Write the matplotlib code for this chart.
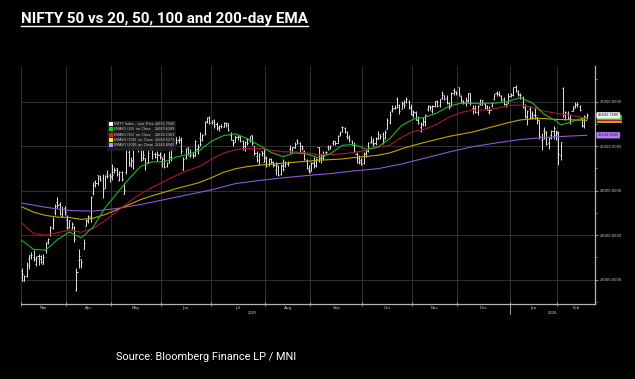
import matplotlib
matplotlib.use("Agg")
import matplotlib.pyplot as plt
import matplotlib.transforms as mtransforms
from matplotlib.lines import Line2D
from matplotlib.patches import Rectangle
import numpy as np

# %% data (daily NIFTY bars, Mar-2025 .. mid Feb-2026)
months = ['Mar', 'Apr', 'May', 'Jun', 'Jul', 'Aug', 'Sep', 'Oct', 'Nov', 'Dec', 'Jan', 'Feb']
month_days = [19, 19, 21, 21, 23, 19, 22, 21, 19, 22, 20, 13]
years = ['2025', '2026']

opens = [
    22194, 21974, 22073, 22476, 22508, 22521, 22345, 22537, 22541, 22353, 22662, 22874, 23036, 23169, 23515, 23752, 23701, 23433, 23600,
    23341, 23192, 23151, 23190, 21758, 22446, 22460, 22695, 23207, 23344, 23402, 23949, 24185, 24357, 24277, 24290, 24070, 24371, 24342,
    24311, 24419, 24500, 24233, 24431, 23935, 24420, 24864, 24614, 24694, 25064, 25006, 24996, 24744, 24733, 24639, 24919, 24956, 24832, 24825, 24812,
    24670, 24786, 24561, 24691, 24748, 25160, 25196, 25134, 25164, 24473, 24732, 24977, 24788, 24803, 24787, 24939, 25179, 25150, 25268, 25576, 25661,
    25551, 25588, 25505, 25428, 25450, 25428, 25514, 25511, 25256, 25149, 25089, 25197, 25231, 25108, 24999, 25166, 25139, 25243, 25010, 24782, 24609, 24891, 24642,
    24734, 24597, 24721, 24641, 24464, 24544, 24372, 24563, 24587, 24607, 24939, 24903, 24965, 25142, 25064, 25000, 24900, 24695, 24467,
    24433, 24654, 24554, 24980, 24819, 24802, 24864, 24991, 24945, 25075, 25118, 25073, 25276, 25441, 25410, 25239, 25209, 25108, 25034, 24818, 24728, 24691,
    24620, 24818, 24916, 25085, 25079, 25074, 25167, 25177, 25277, 25182, 25394, 25546, 25824, 25866, 26058, 25935, 25844, 25939, 25982, 25984, 25863,
    25696, 25744, 25593, 25433, 25503, 25541, 25834, 25906, 25795, 25892, 26022, 25933, 26079, 26156, 26094, 25963, 25900, 26262, 26231,
    26325, 26123, 25991, 25980, 26019, 26191, 25867, 25865, 25771, 25937, 25933, 25951, 25903, 25764, 25911, 26055, 26205, 26170, 26121, 26064, 25940, 25971,
    26173, 26155, 26333, 26190, 26144, 26107, 25840, 25650, 25845, 25648, 25696, 25653, 25580, 25141, 25344, 25344, 25063, 25258, 25350, 25248,
    25300, 24800, 26300, 25700, 25750, 25600, 25800, 25900, 25950, 25900, 25600, 25450, 25650,
]
highs = [
    22261, 22105, 22395, 22556, 22633, 22676, 22522, 22577, 22558, 22578, 22858, 22941, 23216, 23402, 23709, 23869, 23737, 23646, 23649,
    23450, 23350, 23306, 23214, 22255, 22698, 22468, 22924, 23368, 23452, 23872, 24189, 24242, 24359, 24348, 24365, 24355, 24457, 24396,
    24589, 24527, 24509, 24449, 24447, 24164, 24944, 24973, 24767, 25116, 25070, 25063, 25011, 24946, 24737, 24909, 25079, 25062, 24865, 24892, 24864,
    24754, 24845, 24644, 24899, 25029, 25160, 25199, 25222, 25196, 24754, 24967, 24983, 24947, 24863, 25137, 25057, 25317, 25266, 25565, 25654, 25669,
    25593, 25608, 25548, 25470, 25489, 25548, 25548, 25525, 25322, 25151, 25245, 25256, 25238, 25144, 25111, 25182, 25233, 25246, 25011, 24889, 24848, 24903, 24956,
    24784, 24736, 24734, 24672, 24634, 24586, 24600, 24702, 24664, 24674, 25022, 24991, 25089, 25154, 25084, 25022, 24919, 24702, 24572,
    24636, 24756, 24733, 24981, 24832, 24885, 24891, 25036, 25037, 25139, 25119, 25261, 25346, 25449, 25429, 25331, 25261, 25148, 25092, 24868, 24792, 24731,
    24868, 24904, 25095, 25221, 25192, 25199, 25331, 25267, 25310, 25365, 25625, 25781, 25926, 25934, 26104, 25944, 26005, 26042, 26097, 26032, 25953,
    25803, 25787, 25679, 25551, 25653, 25715, 25934, 25920, 25930, 26025, 26030, 26063, 26246, 26159, 26142, 26000, 26215, 26310, 26251,
    26326, 26156, 26042, 26098, 26202, 26194, 25933, 25923, 25922, 26057, 26048, 25980, 25929, 25903, 25994, 26180, 26233, 26236, 26144, 26106, 25976, 26188,
    26197, 26340, 26373, 26273, 26187, 26134, 25940, 25813, 25900, 25791, 25873, 25653, 25585, 25300, 25435, 25347, 25206, 25372, 25450, 25365,
    25340, 25100, 26341, 25800, 25790, 25720, 25900, 25990, 26000, 25930, 25640, 25700, 25740,
]
lows = [
    21965, 21965, 22068, 22245, 22464, 22429, 22315, 22329, 22378, 22353, 22599, 22807, 22973, 23132, 23451, 23601, 23451, 23412, 23451,
    23136, 23158, 23145, 22857, 21744, 22271, 22270, 22695, 23207, 23273, 23298, 23903, 24073, 24119, 24216, 23847, 24054, 24290, 24198,
    24238, 24400, 24331, 24221, 24221, 23935, 24378, 24547, 24535, 24495, 24953, 24875, 24669, 24686, 24462, 24614, 24911, 24705, 24737, 24677, 24717,
    24527, 24502, 24530, 24620, 24671, 25077, 25054, 25081, 24825, 24473, 24703, 24813, 24750, 24733, 24784, 24825, 24999, 25125, 25259, 25523, 25489,
    25501, 25409, 25372, 25331, 25407, 25424, 25424, 25340, 25129, 25002, 25089, 25143, 25101, 24919, 24882, 25035, 25085, 25018, 24806, 24646, 24599, 24771, 24635,
    24535, 24554, 24591, 24539, 24345, 24337, 24347, 24452, 24539, 24564, 24852, 24874, 24952, 25054, 24859, 24918, 24689, 24481, 24404,
    24432, 24515, 24533, 24650, 24621, 24693, 24814, 24915, 24940, 25038, 25025, 25071, 25220, 25330, 25287, 25151, 25085, 25027, 24878, 24630, 24606, 24587,
    24605, 24748, 24879, 25076, 25009, 25024, 25157, 25152, 25060, 25159, 25377, 25508, 25762, 25843, 25862, 25718, 25827, 25859, 25960, 25845, 25711,
    25645, 25578, 25491, 25318, 25449, 25448, 25792, 25810, 25740, 25880, 25877, 25878, 26063, 26044, 25942, 25846, 25893, 26155, 26155,
    26125, 25998, 25939, 25892, 25982, 25931, 25729, 25753, 25694, 25923, 25925, 25843, 25803, 25726, 25880, 26047, 26119, 26124, 26008, 25920, 25878, 25969,
    26113, 26119, 26210, 26124, 26067, 25858, 25623, 25473, 25603, 25603, 25603, 25494, 25171, 24920, 25168, 25025, 24932, 25160, 25159, 25141,
    24571, 24700, 25650, 25580, 25600, 25500, 25780, 25860, 25880, 25780, 25440, 25400, 25600,
]
closes = [
    22119, 22083, 22337, 22545, 22553, 22460, 22498, 22470, 22397, 22509, 22834, 22907, 23191, 23350, 23658, 23669, 23487, 23592, 23519,
    23165, 23332, 23250, 22904, 22162, 22536, 22399, 22829, 23328, 23437, 23852, 24125, 24167, 24329, 24247, 24039, 24328, 24336, 24334,
    24347, 24461, 24380, 24414, 24274, 24008, 24925, 24578, 24667, 25062, 25020, 24945, 24684, 24813, 24610, 24853, 25001, 24827, 24752, 24834, 24751,
    24717, 24543, 24621, 24751, 25003, 25103, 25104, 25141, 24888, 24719, 24946, 24853, 24812, 24794, 25112, 24972, 25045, 25245, 25549, 25637, 25517,
    25542, 25453, 25405, 25461, 25461, 25523, 25476, 25355, 25150, 25082, 25196, 25212, 25112, 24968, 25091, 25061, 25220, 25062, 24837, 24681, 24821, 24855, 24768,
    24565, 24723, 24650, 24574, 24596, 24363, 24585, 24487, 24619, 24631, 24877, 24980, 25051, 25084, 24870, 24968, 24712, 24501, 24427,
    24625, 24580, 24715, 24734, 24741, 24773, 24869, 24973, 25005, 25114, 25069, 25239, 25330, 25424, 25327, 25202, 25170, 25057, 24891, 24655, 24635, 24611,
    24837, 24894, 25077, 25108, 25046, 25182, 25285, 25227, 25146, 25324, 25586, 25710, 25843, 25869, 25891, 25795, 25966, 25936, 26054, 25878, 25722,
    25764, 25598, 25510, 25492, 25574, 25695, 25876, 25879, 25910, 26013, 25910, 26052, 26192, 26068, 25960, 25885, 26205, 26216, 26203,
    26176, 26032, 25986, 26034, 26186, 25961, 25840, 25758, 25898, 26047, 26027, 25860, 25819, 25816, 25966, 26172, 26177, 26142, 26042, 25942, 25938, 26130,
    26147, 26328, 26250, 26179, 26140, 25877, 25683, 25790, 25732, 25666, 25694, 25585, 25232, 25157, 25290, 25048, 25175, 25342, 25418, 25320,
    24825, 25088, 25727, 25776, 25642, 25693, 25867, 25935, 25954, 25807, 25471, 25683, 25692.75,
]

# EMA values at these trading-day positions
ema20_idx = [0, 5, 10, 15, 20, 25, 30, 35, 40, 45, 50, 55, 60, 65, 70, 75, 80, 85, 90, 95, 100, 105, 110, 115, 120,
             125, 130, 135, 140, 145, 150, 155, 160, 165, 170, 175, 180, 185, 190, 195, 200, 205, 210, 215, 220,
             225, 227, 230, 235, 238]
ema20 = [22881, 22680, 22665, 22900, 23072, 22940, 23180, 23610, 23940, 24258, 24545, 24649, 24649, 24755, 24814,
         24911, 25117, 25238, 25280, 25170, 25020, 24860, 24765, 24850, 24824, 24740, 24830, 25020, 25040, 24930,
         24980, 25170, 25465, 25610, 25650, 25750, 25900, 25964, 25964, 25964, 25970, 26010, 26090, 25975, 25720,
         25570, 25480, 25520, 25615, 25641]
ema_idx = [0, 5, 10, 15, 20, 25, 30, 35, 40, 45, 50, 55, 60, 65, 70, 75, 80, 85, 90, 95, 100, 105, 110, 115, 120,
           125, 130, 135, 140, 145, 150, 155, 160, 165, 170, 175, 180, 185, 190, 195, 200, 205, 210, 215, 220,
           225, 230, 235, 238]
ema50 = [23270, 23035, 23000, 23058, 23110, 23066, 23150, 23325, 23533, 23743, 23930, 24077, 24210, 24343, 24455,
         24551, 24711, 24846, 24921, 24950, 24950, 24908, 24874, 24874, 24850, 24805, 24811, 24828, 24860, 24908,
         24975, 25025, 25200, 25330, 25383, 25500, 25650, 25755, 25813, 25811, 25850, 25915, 25925, 25870, 25790,
         25740, 25700, 25665, 25626]
ema100 = [23635, 23515, 23445, 23407, 23397, 23356, 23380, 23465, 23570, 23683, 23800, 23888, 23966, 24047, 24115,
          24187, 24295, 24413, 24493, 24542, 24572, 24596, 24618, 24640, 24662, 24685, 24698, 24713, 24746, 24770,
          24795, 24850, 24940, 25020, 25090, 25155, 25220, 25270, 25320, 25390, 25460, 25530, 25590, 25615, 25622,
          25602, 25595, 25586, 25580]
ema200_idx = [0, 10, 20, 30, 40, 50, 60, 70, 80, 90, 100, 110, 120, 130, 140, 150, 160, 170, 180, 190, 200, 210, 220, 230, 238]
ema200 = [23720, 23628, 23555, 23540, 23600, 23690, 23800, 23910, 24020, 24160, 24230, 24290, 24340, 24385, 24445,
          24495, 24600, 24735, 24870, 24990, 25075, 25150, 25195, 25225, 25245]

last_price = 25692.75
ema_last = [25640.6289, 25626.1363, 25580.5273, 25244.8945]
legend_labels = ['NIFTY Index - Last Price', 'EMAVG (20)  on Close', 'EMAVG (50)  on Close',
                 'EMAVG (100)  on Close', 'EMAVG (200)  on Close']

# %% styling
W, H = 635, 379
bar_col = '#e2e2e2'
line_cols = ['#1fb81f', '#b0142f', '#bfa800', '#8f55d8']
key_cols = ['#ffffff', '#00dd00', '#ee1133', '#ffee00', '#c58bff']
axis_col = '#b4b4b4'
txt_col = '#cfcfcf'


def fx(px):
    return px / W


def fy(py):
    return 1 - py / H


fig = plt.figure(figsize=(W / 100, H / 100), dpi=100, facecolor='black')
ax = fig.add_axes([fx(20.7), fy(304), fx(595.3) - fx(20.7), fy(66) - fy(304)])
ax.set_facecolor('black')

x = np.arange(len(closes))
# OHLC bars
ax.vlines(x, lows, highs, color=bar_col, lw=0.7, zorder=3)
ax.hlines(opens, x - 0.45, x, color=bar_col, lw=0.7, zorder=3)
ax.hlines(closes, x, x + 0.45, color=bar_col, lw=0.7, zorder=3)

# EMA lines
ax.plot(ema200_idx, ema200, color=line_cols[3], lw=0.8, zorder=4)
ax.plot(ema_idx, ema100, color=line_cols[2], lw=0.8, zorder=4)
ax.plot(ema_idx, ema50, color=line_cols[1], lw=0.8, zorder=4)
ax.plot(ema20_idx, ema20, color=line_cols[0], lw=0.8, zorder=4)

ax.set_xlim(-0.5, 241.6)
ax.set_ylim(21454, 26802)

# month boundaries / labels
bounds = np.concatenate([[0], np.cumsum(month_days)]) - 0.5
right_end = ax.get_xlim()[1]
centers = [(bounds[i] + min(bounds[i + 1], right_end)) / 2 if i < len(months) - 1
           else (bounds[i] + right_end) / 2 for i in range(len(months))]
ax.set_xticks(bounds[:-1])
ax.set_xticklabels([''] * (len(bounds) - 1))
ax.set_xticks(centers, minor=True)
ax.set_xticklabels(months, minor=True)
ax.tick_params(axis='x', which='major', direction='inout', length=3, width=0.6, color=axis_col)
ax.tick_params(axis='x', which='minor', length=0, labelsize=3, labelcolor=txt_col, pad=1.6)

# year labels and separator
trans = mtransforms.blended_transform_factory(ax.transData, ax.transAxes)
jan_pos = bounds[months.index('Jan')]
ax.plot([jan_pos, jan_pos], [0, -0.04], transform=trans, color=axis_col, lw=0.6, clip_on=False)
ax.text(0.4038, -0.038, years[0], transform=ax.transAxes, ha='center', va='center', fontsize=2.7, color=txt_col)
ax.text(0.925, -0.038, years[1], transform=ax.transAxes, ha='center', va='center', fontsize=2.7, color=txt_col)

# right price axis
ax.yaxis.tick_right()
yt = [22000, 23000, 24000, 25000, 26000]
ax.set_yticks(yt)
ax.set_yticklabels([f'{v:.4f}' for v in yt])
ax.set_yticks(np.arange(21500, 26800, 500), minor=True)
ax.tick_params(axis='y', which='major', length=1.8, width=0.6, color=axis_col, labelsize=2.6, labelcolor=txt_col, pad=1.2)
ax.tick_params(axis='y', which='minor', length=1.2, width=0.5, color=axis_col)

ax.grid(True, which='major', color='#3a3a3a', lw=0.6, zorder=0)
for s in ['left', 'top']:
    ax.spines[s].set_visible(False)
for s in ['right', 'bottom']:
    ax.spines[s].set_color(axis_col)
    ax.spines[s].set_linewidth(0.9)

# last value tags on the right axis: the EMA20/50/100 tags sit under the price tag
ytrans = mtransforms.blended_transform_factory(ax.transAxes, ax.transData)
tag_h = 4.4 / 238 * (26802 - 21454)
for v, fc in [(ema_last[2], line_cols[2]), (ema_last[1], line_cols[1]), (ema_last[0], '#22cc22')]:
    ax.add_patch(Rectangle((1.003, v - tag_h / 2), 0.0435, tag_h, transform=ytrans, fc=fc, ec='none',
                           clip_on=False, zorder=10))
for v, fc, tc in [(last_price, '#f2f2f2', 'black'), (ema_last[3], '#b57bf0', '#2a1050')]:
    ax.text(1.004, v, f'{v:.4f}', transform=ytrans, fontsize=2.5, color=tc, va='center', ha='left',
            bbox=dict(boxstyle='round,pad=0.35', fc=fc, ec='none'), clip_on=False, zorder=12)

# legend box
fig.add_artist(Rectangle((fx(107), fy(151)), fx(176) - fx(107), fy(121) - fy(151),
                         transform=fig.transFigure, fc='#1e1e1e', ec='none', alpha=0.9, zorder=5))
row_y = [124, 129.2, 134.5, 139.7, 145]
row_vals = [last_price] + ema_last
for k in range(5):
    fig.add_artist(Rectangle((fx(108.5), fy(row_y[k] + 2)), fx(4), fy(row_y[k] - 2) - fy(row_y[k] + 2),
                             transform=fig.transFigure, fc=key_cols[k], ec='none', zorder=6))
    fig.text(fx(114.5), fy(row_y[k]), legend_labels[k], fontsize=2.4, color=txt_col, va='center', ha='left', zorder=6)
    fig.text(fx(175), fy(row_y[k]), f'{row_vals[k]:.4f}', fontsize=2.4, color=txt_col, va='center', ha='right', zorder=6)

# title + source
title = fig.text(fx(20.7), fy(19.5), 'NIFTY 50 vs 20, 50, 100 and 200-day EMA', fontsize=10.9,
                 fontweight='bold', family='Roboto', color='white', va='center', ha='left')
fig.text(fx(116), fy(357), 'Source: Bloomberg Finance LP / MNI', fontsize=7.9, family='Roboto',
         color='white', va='center', ha='left')

fig.canvas.draw()
bb = title.get_window_extent()
x0, x1 = bb.x0 / fig.bbox.width, bb.x1 / fig.bbox.width
fig.add_artist(Line2D([x0, x1], [fy(25.5), fy(25.5)], transform=fig.transFigure, color='white', lw=1.0))

fig.savefig('out.png', dpi=100, facecolor='black')
